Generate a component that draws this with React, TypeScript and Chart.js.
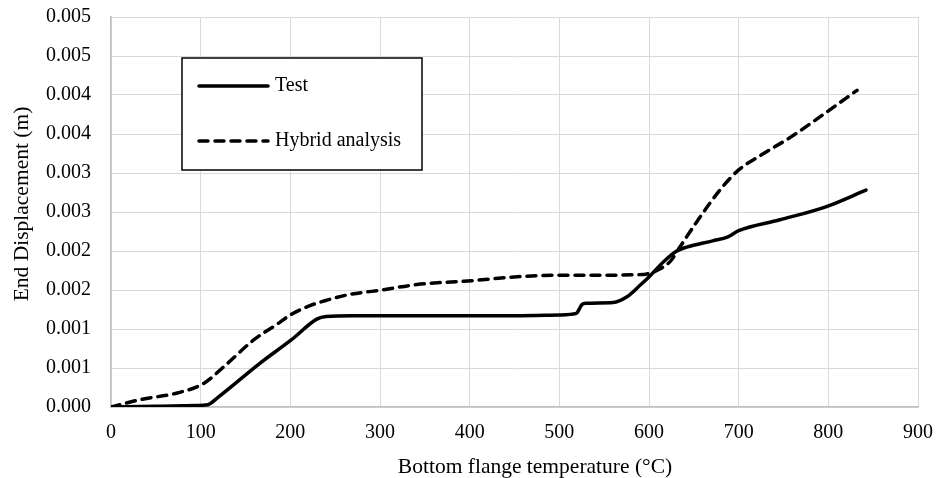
import React, { useEffect, useRef } from "react";
import { Chart, registerables } from "chart.js";

Chart.register(...registerables);

// Bottom flange temperature (°C) and end displacement (m)
const testTemp = [0, 50, 95, 108, 120, 166, 201, 230, 240, 270, 350, 450, 500, 519, 522, 525, 530, 560, 575, 590, 601, 616, 631, 642, 671, 688, 700, 746, 798, 842];
const testDisp = [0, 0.00001, 0.00002, 0.00003, 0.00013, 0.00056, 0.00086, 0.00113, 0.00116, 0.00117, 0.00117, 0.00117, 0.00118, 0.0012, 0.00125, 0.00131, 0.00133, 0.00134, 0.00141, 0.00156, 0.00168, 0.00186, 0.002, 0.00205, 0.00213, 0.00218, 0.00226, 0.0024, 0.00257, 0.00278];

const hybridTemp = [0, 35, 74, 103, 129, 158, 185, 200, 222, 241, 265, 302, 341, 403, 453, 503, 545, 594, 612, 624, 635, 653, 679, 700, 725, 758, 798, 832];
const hybridDisp = [0, 0.0001, 0.00018, 0.0003, 0.00055, 0.00085, 0.00106, 0.00118, 0.0013, 0.00137, 0.00144, 0.0015, 0.00157, 0.00162, 0.00167, 0.00169, 0.00169, 0.0017, 0.00177, 0.00187, 0.00206, 0.00237, 0.00278, 0.00304, 0.00323, 0.00346, 0.00378, 0.00406];

const yTickLabels = ["0.000", "0.001", "0.001", "0.002", "0.002", "0.003", "0.003", "0.004", "0.004", "0.005", "0.005"];
const seriesNames = ["Test", "Hybrid analysis"];
const xTitle = "Bottom flange temperature (°C)";
const yTitle = "End Displacement (m)";

const FONT = "'Liberation Serif', 'Times New Roman', serif";

const legendPlugin = {
  id: "boxLegend",
  afterDatasetsDraw(chart: any) {
    const { ctx, chartArea } = chart;
    const x0 = chartArea.left + 71;
    const y0 = chartArea.top + 41;
    const w = 240;
    const h = 112;
    ctx.save();
    ctx.fillStyle = "#ffffff";
    ctx.fillRect(x0, y0, w, h);
    ctx.strokeStyle = "#000000";
    ctx.lineWidth = 1.5;
    ctx.strokeRect(x0, y0, w, h);
    const rows = [28, 83];
    chart.data.datasets.forEach((ds: any, i: number) => {
      const y = y0 + rows[i];
      ctx.beginPath();
      ctx.lineWidth = ds.borderWidth;
      ctx.lineCap = "round";
      ctx.setLineDash(ds.borderDash || []);
      ctx.moveTo(x0 + 17, y);
      ctx.lineTo(x0 + 86, y);
      ctx.stroke();
      ctx.setLineDash([]);
      ctx.fillStyle = "#000000";
      ctx.font = `20px ${FONT}`;
      ctx.textBaseline = "middle";
      ctx.textAlign = "left";
      ctx.fillText(ds.label, x0 + 93, y);
    });
    ctx.restore();
  },
};

const titlePlugin = {
  id: "axisTitles",
  afterDraw(chart: any) {
    const { ctx, chartArea } = chart;
    ctx.save();
    ctx.fillStyle = "#000000";
    ctx.font = `21.5px ${FONT}`;
    ctx.textAlign = "center";
    ctx.textBaseline = "middle";
    ctx.fillText(xTitle, chartArea.left + 424, chartArea.bottom + 60);
    ctx.translate(chartArea.left - 89, chartArea.top + 187);
    ctx.rotate(-Math.PI / 2);
    ctx.fillText(yTitle, 0, 0);
    ctx.restore();
  },
};

export default function App() {
  const ref = useRef<HTMLCanvasElement | null>(null);

  useEffect(() => {
    if (!ref.current) return;
    const testData = testTemp.map((t, i) => ({ x: t, y: testDisp[i] }));
    const hybridData = hybridTemp.map((t, i) => ({ x: t, y: hybridDisp[i] }));
    const chart = new Chart(ref.current, {
      type: "line",
      data: {
        datasets: [
          {
            label: seriesNames[0],
            data: testData,
            borderColor: "#000000",
            borderWidth: 3.5,
            pointRadius: 0,
            cubicInterpolationMode: "monotone",
            borderCapStyle: "round",
            fill: false,
          },
          {
            label: seriesNames[1],
            data: hybridData,
            borderColor: "#000000",
            borderWidth: 3.5,
            borderDash: [9, 7],
            borderCapStyle: "round",
            pointRadius: 0,
            cubicInterpolationMode: "monotone",
            fill: false,
          },
        ],
      },
      options: {
        responsive: false,
        animation: false,
        layout: { padding: { left: 0, top: 17, right: 18, bottom: 0 } },
        plugins: {
          legend: { display: false },
          tooltip: { enabled: false },
        },
        scales: {
          x: {
            type: "linear",
            min: 0,
            max: 900,
            ticks: {
              stepSize: 100,
              color: "#000000",
              padding: 14,
              font: { family: FONT, size: 20 },
              maxRotation: 0,
            },
            grid: { color: "#d9d9d9", lineWidth: 1, drawTicks: false },
            border: { color: "#bfbfbf", width: 1.5 },
            title: { display: false, text: xTitle },
            afterFit(scale: any) {
              scale.height = 71;
              scale.paddingLeft = 0;
              scale.paddingRight = 0;
            },
          },
          y: {
            type: "linear",
            min: 0,
            max: 0.005,
            ticks: {
              stepSize: 0.0005,
              color: "#000000",
              padding: 20,
              font: { family: FONT, size: 20 },
              callback: (_v: any, i: number) => yTickLabels[i],
            },
            grid: { color: "#d9d9d9", lineWidth: 1, drawTicks: false },
            border: { color: "#bfbfbf", width: 1.5 },
            title: { display: false, text: yTitle },
            afterFit(scale: any) {
              scale.width = 111;
              scale.paddingTop = 0;
              scale.paddingBottom = 0;
            },
          },
        },
      },
      plugins: [legendPlugin, titlePlugin],
    } as any);
    return () => chart.destroy();
  }, []);

  return (
    <div style={{ position: "fixed", left: 0, top: 0, width: 936, height: 478, background: "#ffffff" }}>
      <canvas ref={ref} width={936} height={478} style={{ width: 936, height: 478, display: "block" }} />
    </div>
  );
}
